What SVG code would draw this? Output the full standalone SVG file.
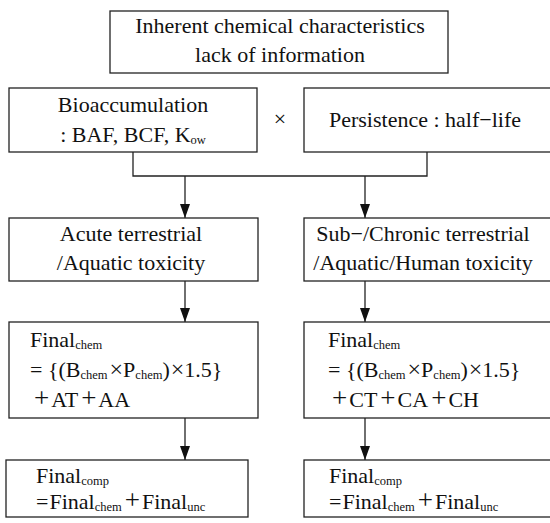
<svg xmlns="http://www.w3.org/2000/svg" width="550" height="523" viewBox="0 0 550 523">
<defs>
<style>
.box{fill:#fff;stroke:#222;stroke-width:1.3}
.t{font-family:"Liberation Serif","Times New Roman","DejaVu Serif",serif;font-size:22px;fill:#111}
.m{text-anchor:middle}
.s{font-size:12.5px}
.p{font-size:27px}
.x{font-size:24px}
.con{fill:none;stroke:#222;stroke-width:1.3}
</style>
<marker id="ah" markerWidth="14" markerHeight="10" refX="14" refY="5" orient="auto" markerUnits="userSpaceOnUse">
<path d="M0,0 L14,5 L0,10 Z" fill="#111"/>
</marker>
</defs>
<rect width="550" height="523" fill="#fff"/>
<g id="connectors">
<path class="con" d="M133,152 V176 H427 V152"/>
<path class="con" d="M185,176 V218" marker-end="url(#ah)"/>
<path class="con" d="M365,176 V218" marker-end="url(#ah)"/>
<path class="con" d="M185,281 V322" marker-end="url(#ah)"/>
<path class="con" d="M365,281 V322" marker-end="url(#ah)"/>
<path class="con" d="M185,418 V460" marker-end="url(#ah)"/>
<path class="con" d="M365,418 V460" marker-end="url(#ah)"/>
</g>
<g id="top">
<rect class="box" x="110" y="11" width="338" height="62"/>
<text class="t m" x="280" y="33">Inherent chemical characteristics</text>
<text class="t m" x="280" y="62">lack of information</text>
</g>
<g id="bioaccumulation">
<rect class="box" x="9" y="88" width="248" height="64"/>
<text class="t m" x="133" y="112">Bioaccumulation</text>
<text class="t m" x="133" y="142">: BAF, BCF, K<tspan class="s" dy="2">ow</tspan></text>
</g>
<g id="times">
<text class="t m" x="280" y="126">×</text>
</g>
<g id="persistence">
<rect class="box" x="304" y="88" width="250" height="64"/>
<text class="t m" x="425" y="127">Persistence : half−life</text>
</g>
<g id="acute">
<rect class="box" x="9" y="218" width="249" height="63"/>
<text class="t m" x="131" y="241">Acute terrestrial</text>
<text class="t m" x="131" y="270">/Aquatic toxicity</text>
</g>
<g id="chronic">
<rect class="box" x="304" y="218" width="250" height="63"/>
<text class="t m" x="423" y="241">Sub−/Chronic terrestrial</text>
<text class="t m" x="423" y="270">/Aquatic/Human toxicity</text>
</g>
<g id="final-chem-acute">
<rect class="box" x="9" y="322" width="249" height="96"/>
<text class="t" x="30" y="347">Final<tspan class="s" dy="2">chem</tspan></text>
<text class="t" x="30" y="377">= {(B<tspan class="s" dy="2">chem</tspan><tspan class="x" dx="2" dy="-2">×</tspan>P<tspan class="s" dy="2">chem</tspan><tspan dy="-2">)</tspan><tspan class="x" dx="1">×</tspan>1.5}</text>
<text class="t" x="34" y="407"><tspan class="p">+</tspan><tspan dx="2">AT</tspan><tspan class="p" dx="3">+</tspan><tspan dx="2">AA</tspan></text>
</g>
<g id="final-chem-chronic">
<rect class="box" x="304" y="322" width="250" height="96"/>
<text class="t" x="328" y="347">Final<tspan class="s" dy="2">chem</tspan></text>
<text class="t" x="328" y="377">= {(B<tspan class="s" dy="2">chem</tspan><tspan class="x" dx="2" dy="-2">×</tspan>P<tspan class="s" dy="2">chem</tspan><tspan dy="-2">)</tspan><tspan class="x" dx="1">×</tspan>1.5}</text>
<text class="t" x="332" y="407"><tspan class="p">+</tspan><tspan dx="2">CT</tspan><tspan class="p" dx="3">+</tspan><tspan dx="2">CA</tspan><tspan class="p" dx="3">+</tspan><tspan dx="2">CH</tspan></text>
</g>
<g id="final-comp-acute">
<rect class="box" x="6" y="460" width="242" height="57"/>
<text class="t" x="36" y="483">Final<tspan class="s" dy="2">comp</tspan></text>
<text class="t" x="36" y="509">=<tspan dx="1">Final</tspan><tspan class="s" dy="2">chem</tspan><tspan class="p" dx="3" dy="-2">+</tspan><tspan dx="2">Final</tspan><tspan class="s" dy="2">unc</tspan></text>
</g>
<g id="final-comp-chronic">
<rect class="box" x="304" y="460" width="250" height="57"/>
<text class="t" x="329" y="483">Final<tspan class="s" dy="2">comp</tspan></text>
<text class="t" x="329" y="509">=<tspan dx="1">Final</tspan><tspan class="s" dy="2">chem</tspan><tspan class="p" dx="3" dy="-2">+</tspan><tspan dx="2">Final</tspan><tspan class="s" dy="2">unc</tspan></text>
</g>
</svg>
